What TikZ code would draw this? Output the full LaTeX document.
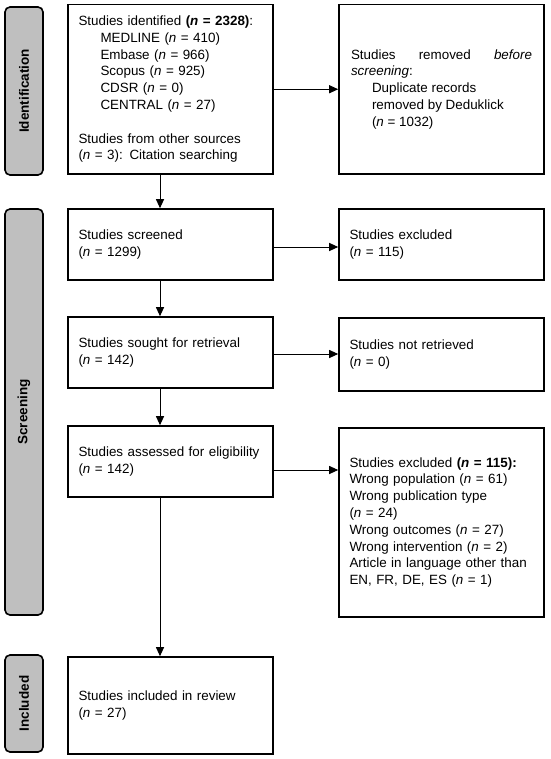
\documentclass[tikz,border=0pt]{standalone}
\usepackage{fontspec}
\setmainfont{Liberation Sans}
\usetikzlibrary{arrows.meta}

\tikzset{
  stagebox/.style={draw=black, line width=1.6pt, fill=gray!50, rounded corners=5pt,
    minimum height=38pt, inner sep=0pt, rotate=90,
    font=\fontsize{13.5pt}{16.8pt}\selectfont\bfseries},
  flowbox/.style={draw=black, line width=1.6pt, minimum width=205pt, inner sep=0pt,
    text width=184pt, align=left, font=\fontsize{13.4pt}{16.8pt}\selectfont},
  flowarrow/.style={line width=1pt, -{Triangle[length=9pt,width=8pt]}},
}

\begin{document}
\begin{tikzpicture}[x=1pt,y=-1pt]
  \useasboundingbox (0,0) rectangle (550,759);

  % Marking the stages by grey labels
  \node [stagebox, minimum width=168pt] (identlab) at (24,91) {Identification};
  \node [stagebox, minimum width=406pt] (screenlab) at (24,412) {Screening};
  \node [stagebox, minimum width=97pt] (incllab) at (24,703.5) {Included};

  % Drawing box identified
  \node [flowbox, minimum height=169.5pt] (ident) at (170.5,89.25) {%
    Studies identified \textbf{(\textit{n} = 2328)}:\\
    \hspace*{22pt}MEDLINE (\textit{n} = 410)\\
    \hspace*{22pt}Embase (\textit{n} = 966)\\
    \hspace*{22pt}Scopus (\textit{n} = 925)\\
    \hspace*{22pt}CDSR (\textit{n} = 0)\\
    \hspace*{22pt}CENTRAL (\textit{n} = 27)\\[16.8pt]
    Studies from other sources\\
    (\textit{n} = 3): Citation searching};

  % Drawing box removed
  \node [flowbox, text width=181pt, align=justify, minimum height=169.5pt] (removed) at (441.5,89.25) {%
    Studies removed \textit{before} \textit{screening}:\\
    \hspace*{21pt}Duplicate records\\
    \hspace*{21pt}removed by Deduklick\\
    \hspace*{21pt}(\textit{n} = 1032)};

  % Drawing boxes screened and excluded
  \node [flowbox, minimum height=71pt] (screen) at (170.5,244.5) {%
    Studies screened\\(\textit{n} = 1299)};
  \node [flowbox, minimum height=71pt] (exclone) at (441.5,244.5) {%
    Studies excluded\\(\textit{n} = 115)};

  % Drawing boxes sought and not retrieved
  \node [flowbox, minimum height=71pt] (sought) at (170.5,352.5) {%
    Studies sought for retrieval\\(\textit{n} = 142)};
  \node [flowbox, minimum height=73pt] (notret) at (441.5,354.5) {%
    Studies not retrieved\\(\textit{n} = 0)};

  % Drawing boxes assessed and excluded
  \node [flowbox, minimum height=71pt] (assess) at (170.5,461.5) {%
    Studies assessed for eligibility\\(\textit{n} = 142)};
  \node [flowbox, minimum height=189pt] (excltwo) at (441.5,522.5) {%
    Studies excluded \textbf{(\textit{n} = 115):}\\
    Wrong population (\textit{n} = 61)\\
    Wrong publication type\\
    (\textit{n} = 24)\\
    Wrong outcomes (\textit{n} = 27)\\
    Wrong intervention (\textit{n} = 2)\\
    Article in language other than\\
    EN, FR, DE, ES (\textit{n} = 1)};

  % Drawing box included
  \node [flowbox, minimum height=97pt] (incl) at (170.5,705.5) {%
    Studies included in review\\(\textit{n} = 27)};

  % Drawing arrows down the left column
  \coordinate (spine) at (160,0);
  \draw [flowarrow] (ident.south -| spine) -- (screen.north -| spine);
  \draw [flowarrow] (screen.south -| spine) -- (sought.north -| spine);
  \draw [flowarrow] (sought.south -| spine) -- (assess.north -| spine);
  \draw [flowarrow] (assess.south -| spine) -- (incl.north -| spine);

  % Drawing arrows to the right column
  \coordinate (identout) at (ident.east);
  \coordinate (screenout) at ([yshift=-2.5pt]screen.east);
  \coordinate (soughtout) at ([yshift=-1.5pt]sought.east);
  \coordinate (assessout) at ([yshift=-8.5pt]assess.east);
  \draw [flowarrow] (identout) -- (identout -| removed.west);
  \draw [flowarrow] (screenout) -- (screenout -| exclone.west);
  \draw [flowarrow] (soughtout) -- (soughtout -| notret.west);
  \draw [flowarrow] (assessout) -- (assessout -| excltwo.west);
\end{tikzpicture}
\end{document}
